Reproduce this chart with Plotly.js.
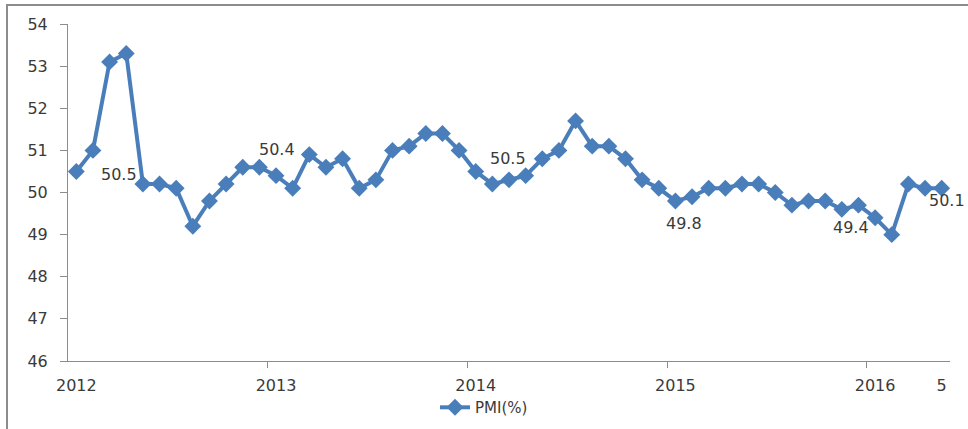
<!DOCTYPE html>
<html>
<head>
<meta charset="utf-8">
<script src="https://cdn.plot.ly/plotly-3.0.1.min.js"></script>
<style>
  html, body { margin: 0; padding: 0; background: #fff; overflow: hidden; }
  #chart { width: 968px; height: 429px; position: absolute; left: 0; top: 0; }
  #frame { position: absolute; left: 6px; top: 4px; width: 1000px; height: 500px;
           border-top: 2px solid #8c8c8c; border-left: 2px solid #8c8c8c; pointer-events: none; }
</style>
</head>
<body>
<div id="chart"></div>
<div id="frame"></div>
<script>
// Monthly PMI, Jan 2012 – May 2016
const pmi2012 = [50.5, 51.0, 53.1, 53.3, 50.2, 50.2, 50.1, 49.2, 49.8, 50.2, 50.6, 50.6];
const pmi2013 = [50.4, 50.1, 50.9, 50.6, 50.8, 50.1, 50.3, 51.0, 51.1, 51.4, 51.4, 51.0];
const pmi2014 = [50.5, 50.2, 50.3, 50.4, 50.8, 51.0, 51.7, 51.1, 51.1, 50.8, 50.3, 50.1];
const pmi2015 = [49.8, 49.9, 50.1, 50.1, 50.2, 50.2, 50.0, 49.7, 49.8, 49.8, 49.6, 49.7];
const pmi2016 = [49.4, 49.0, 50.2, 50.1, 50.1];
const seriesName = "PMI(%)";
const tickLabels = ["2012", "2013", "2014", "2015", "2016", "5"];

const values = [].concat(pmi2012, pmi2013, pmi2014, pmi2015, pmi2016);
const idx = values.map((_, i) => i);
const tickIdx = [0, 12, 24, 36, 48, values.length - 1];
const boundaryTicks = [11.5, 23.5, 35.5, 47.5];

// data labels: which points, and pixel offsets of the label
const labelIdx = [0, 12, 24, 36, 48, 52];
const labelShift = [[43, -3], [1, 26], [32, 13], [9, -23], [-24, -10], [5, -12]];

const color = "#4a7ebb";
const txt = "#3a3a3a";
const font = { family: "DejaVu Sans, Verdana, sans-serif", size: 16, color: txt };

const trace = {
  x: idx, y: values, type: "scatter", mode: "lines+markers", name: seriesName,
  line: { color: color, width: 4 },
  marker: { symbol: "diamond", size: 13, color: color },
  cliponaxis: false
};

const annotations = labelIdx.map((k, j) => ({
  x: k, y: values[k], xref: "x", yref: "y",
  text: values[k].toFixed(1), showarrow: false,
  xshift: labelShift[j][0], yshift: labelShift[j][1],
  font: font
}));

const layout = {
  width: 968, height: 429,
  margin: { l: 68, r: 18, t: 24, b: 68 },
  paper_bgcolor: "#fff", plot_bgcolor: "#fff",
  font: font,
  showlegend: true,
  legend: { orientation: "h", xref: "container", yref: "container",
            x: 0.5, xanchor: "center", y: 0.05, yanchor: "middle",
            bgcolor: "rgba(0,0,0,0)",
            font: { family: font.family, size: 15, color: txt }, itemwidth: 30 },
  xaxis: {
    range: [-0.5, values.length - 0.5], showgrid: false, zeroline: false,
    showline: true, linecolor: "#8c8c8c", linewidth: 1,
    tickvals: tickIdx, ticktext: tickLabels, ticks: "", ticklabelstandoff: 10,
    tickfont: font
  },
  xaxis2: {
    overlaying: "x", range: [-0.5, values.length - 0.5], showgrid: false, zeroline: false,
    side: "bottom", anchor: "y",
    tickvals: boundaryTicks, showticklabels: false, ticks: "outside", ticklen: 6,
    tickcolor: "#8c8c8c", showline: false
  },
  yaxis: {
    range: [46, 54], dtick: 1, showgrid: false, zeroline: false,
    showline: true, linecolor: "#8c8c8c", linewidth: 1,
    ticks: "outside", ticklen: 7, tickcolor: "#8c8c8c", ticklabelstandoff: 9,
    tickfont: font
  },
  annotations: annotations
};

const dummy = { x: [0], y: [null], xaxis: "x2", yaxis: "y", showlegend: false, hoverinfo: "skip", type: "scatter", mode: "markers" };

Plotly.newPlot("chart", [trace, dummy], layout, { staticPlot: true });
</script>
</body>
</html>
